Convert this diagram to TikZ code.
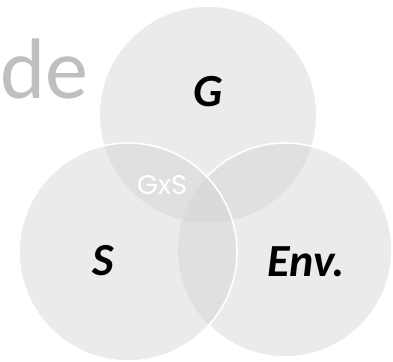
\documentclass[tikz,border=0pt]{standalone}
\usepackage{fontspec}
\setmainfont{Carlito}
\newfontfamily\geofont{Poppins}
\definecolor{discfill}{RGB}{211,211,211}
\definecolor{titlegray}{RGB}{191,191,191}
\begin{document}
\begin{tikzpicture}[x=1pt,y=-1pt,
  disc/.style={fill=discfill,fill opacity=0.45,draw=none},
  rim/.style={draw=white,line width=1.6pt},
  factor/.style={font=\fontsize{46}{46}\selectfont\bfseries\itshape,text=black,inner sep=0pt}]
\useasboundingbox (0,0) rectangle (393,361);

% three overlapping discs: genes, environment, S
\path[disc] (208,115) circle (108);
\path[disc] (285,250) circle (107);
\path[disc] (128,252) circle (109);

% soft shadow of the G disc edge inside the S disc
\begin{scope}
  \clip (208,115) circle (108);
  \clip (128,252) circle (109);
  \foreach \k in {1,...,12}{
    \draw[discfill,line width=2pt,opacity=0.05] (208,115) circle ({108-2*\k});
  }
\end{scope}

% white rim of the environment disc, hidden where the S disc lies above it
\begin{scope}[even odd rule]
  \clip (-10,-10) rectangle (403,371) (128,252) circle (109);
  \draw[rim] (285,250) circle (107);
\end{scope}
\draw[rim] (128,252) circle (109);

% heading fragment
\node[anchor=base west,inner sep=0pt,text=titlegray,
      font=\fontsize{86}{86}\selectfont] (title) at (0,98) {de};

% labels
\node[factor] (g) at (208,92) {G};
\node[factor] (s) at (103,261) {S};
\node[factor] (env) at (306,262) {Env.};
\node[inner sep=0pt,text=white,font=\geofont\fontsize{27}{27}\selectfont] (gxs) at (162,185) {GxS};
\end{tikzpicture}
\end{document}
